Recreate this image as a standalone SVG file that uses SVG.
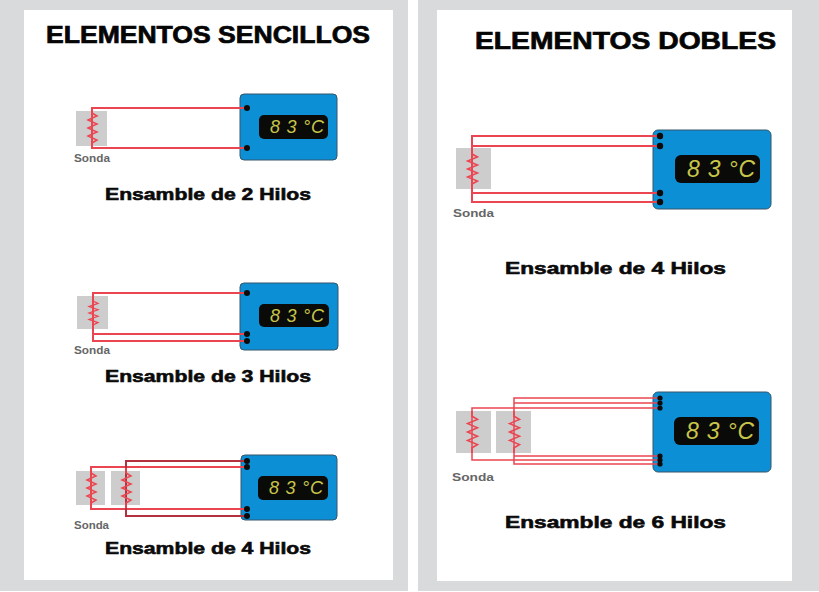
<svg xmlns="http://www.w3.org/2000/svg" width="819" height="592" viewBox="0 0 819 592">
<style>
.title{font:bold 23px "Liberation Sans",Arial,sans-serif;fill:#050505;stroke:#050505;stroke-width:.7}
.cap{font:bold 17px "Liberation Sans",Arial,sans-serif;fill:#0a0a0a;stroke:#0a0a0a;stroke-width:.6}
.sonda{font:bold 10px "Liberation Sans",Arial,sans-serif;fill:#666}
.probe{fill:#cdcdcd}
.box{fill:#0d8fd6;stroke:#35566b;stroke-width:1}
.disp{fill:#0a0a08}
.read{font:italic 18px "Liberation Sans",Arial,sans-serif;fill:#c8c64a}
.readb{font-size:23px}
.wire{fill:none;stroke:#ec4552;stroke-width:2}
.thin{stroke-width:1.5}
.dark{stroke:#b5303f}
.dot{fill:#0b0b0b}
</style>
<defs>
<path id="res" class="wire thin" d="M0 0V5L5 8L-4 12L5 16L-4 20L5 24L-4 28L5 32L0 35V40"/>
</defs>
<rect width="819" height="592" fill="#fff"/>
<rect x="0" y="0" width="408" height="591" fill="#d9dadc"/>
<rect x="418" y="0" width="401" height="591" fill="#d9dadc"/>
<rect x="24" y="10" width="369" height="570" fill="#fff"/>
<rect x="437" y="10" width="355" height="571" fill="#fff"/>
<text class="title" x="46" y="43" textLength="324" lengthAdjust="spacingAndGlyphs">ELEMENTOS SENCILLOS</text>
<text class="title" x="475" y="49" textLength="301" lengthAdjust="spacingAndGlyphs">ELEMENTOS DOBLES</text>

<g id="s2">
<rect class="probe" x="76" y="111" width="31" height="35"/>
<rect class="box" x="240" y="94" width="97" height="66" rx="4"/>
<rect class="disp" x="259" y="115" width="69" height="24" rx="5"/>
<text class="read" x="270" y="133" textLength="54" lengthAdjust="spacing">8 3 °C</text>
<text class="sonda" x="74" y="162" textLength="36" lengthAdjust="spacingAndGlyphs">Sonda</text>
<text class="cap" x="105" y="200" textLength="206" lengthAdjust="spacingAndGlyphs">Ensamble de 2 Hilos</text>
</g>
<g id="s3">
<rect class="probe" x="77" y="296" width="31" height="33"/>
<rect class="box" x="240" y="283" width="98" height="67" rx="4"/>
<rect class="disp" x="259" y="304" width="70" height="23" rx="5"/>
<text class="read" x="270" y="322" textLength="54" lengthAdjust="spacing">8 3 °C</text>
<text class="sonda" x="74" y="354" textLength="36" lengthAdjust="spacingAndGlyphs">Sonda</text>
<text class="cap" x="105" y="382" textLength="206" lengthAdjust="spacingAndGlyphs">Ensamble de 3 Hilos</text>
</g>
<g id="s4">
<rect class="probe" x="76" y="471" width="29" height="34"/>
<rect class="probe" x="111" y="471" width="29" height="34"/>
<rect class="box" x="241" y="455" width="96" height="65" rx="4"/>
<rect class="disp" x="258" y="476" width="70" height="24" rx="5"/>
<text class="read" x="269" y="494" textLength="54" lengthAdjust="spacing">8 3 °C</text>
<text class="sonda" x="74" y="529" textLength="35" lengthAdjust="spacingAndGlyphs">Sonda</text>
<text class="cap" x="105" y="554" textLength="206" lengthAdjust="spacingAndGlyphs">Ensamble de 4 Hilos</text>
</g>
<g id="d4">
<rect class="probe" x="456" y="148" width="35" height="41"/>
<rect class="box" x="653" y="130" width="118" height="79" rx="5"/>
<rect class="disp" x="675" y="155" width="85" height="28" rx="6"/>
<text class="read readb" x="687" y="177" textLength="68" lengthAdjust="spacing">8 3 °C</text>
<text class="sonda" x="453" y="217" textLength="41" lengthAdjust="spacingAndGlyphs">Sonda</text>
<text class="cap" x="505" y="274" textLength="221" lengthAdjust="spacingAndGlyphs">Ensamble de 4 Hilos</text>
</g>
<g id="d6">
<rect class="probe" x="456" y="411" width="35" height="42"/>
<rect class="probe" x="496" y="411" width="35" height="42"/>
<rect class="box" x="653" y="392" width="118" height="80" rx="5"/>
<rect class="disp" x="674" y="417" width="85" height="28" rx="6"/>
<text class="read readb" x="686" y="439" textLength="68" lengthAdjust="spacing">8 3 °C</text>
<text class="sonda" x="452" y="481" textLength="42" lengthAdjust="spacingAndGlyphs">Sonda</text>
<text class="cap" x="505" y="528" textLength="221" lengthAdjust="spacingAndGlyphs">Ensamble de 6 Hilos</text>
</g>

<g id="connectors">
<path class="wire" d="M247 108H92V148H247"/>
<use href="#res" transform="translate(92 108)"/>
<path class="wire" d="M247 293H93V341H247M93 334H247"/>
<use href="#res" transform="translate(93 297) scale(1 .8)"/>
<path class="wire" d="M247 467H91V509H247"/>
<path class="wire dark" d="M247 461H126V516H247"/>
<use href="#res" transform="translate(91 468)"/>
<use href="#res" transform="translate(126 468)"/>
<path class="wire" d="M660 136H472V202H660M472 146H660M472 193H660"/>
<use href="#res" transform="translate(472 149) scale(1.1 1)"/>
<path class="wire thin" d="M660 408H472V460H660"/>
<path class="wire thin" d="M660 398H514V464H660M514 403H660M514 456H660"/>
<use href="#res" transform="translate(472 411) scale(1.1 1.05)"/>
<use href="#res" transform="translate(514 411) scale(1.1 1.05)"/>
</g>

<g id="terminals" class="dot">
<circle cx="247" cy="108" r="3"/><circle cx="247" cy="148" r="3"/>
<circle cx="247" cy="334" r="3"/><circle cx="247" cy="341" r="3"/><circle cx="247" cy="293" r="3"/>
<circle cx="247" cy="461" r="3"/><circle cx="247" cy="467" r="3"/><circle cx="247" cy="509" r="3"/><circle cx="247" cy="516" r="3"/>
<circle cx="660" cy="136" r="3.2"/><circle cx="660" cy="146" r="3.2"/><circle cx="660" cy="193" r="3.2"/><circle cx="660" cy="202" r="3.2"/>
<circle cx="660" cy="398" r="2.6"/><circle cx="660" cy="403" r="2.6"/><circle cx="660" cy="408" r="2.6"/>
<circle cx="660" cy="456" r="2.6"/><circle cx="660" cy="460" r="2.6"/><circle cx="660" cy="464" r="2.6"/>
</g>
</svg>
